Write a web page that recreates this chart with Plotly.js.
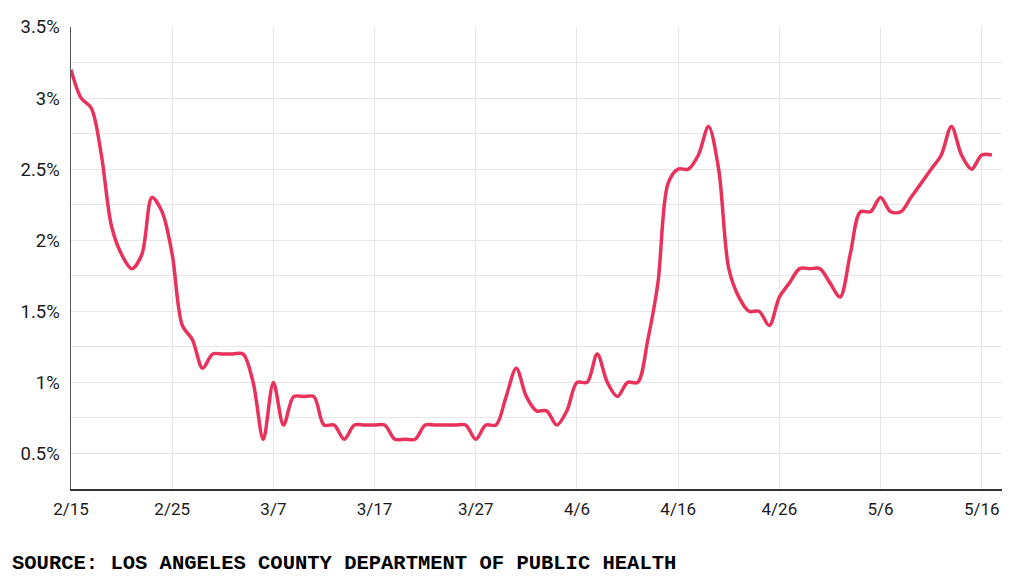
<!DOCTYPE html>
<html>
<head>
<meta charset="utf-8">
<script src="https://cdn.plot.ly/plotly-3.0.1.min.js"></script>
<style>
  html, body { margin: 0; padding: 0; background: #fff; }
  #chart { width: 1024px; height: 576px; }
</style>
</head>
<body>
<div id="chart"></div>
<script>
// Start date of the daily series
const startDate = '2021-02-15';

// Daily positivity rate (%), 2/15 through 5/17
const positivity = [
  3.2, 3.0, 2.93, 2.6, 2.1, 1.9, 1.8, 1.9, 2.3, 2.2,
  1.9, 1.4, 1.3, 1.1, 1.2, 1.2, 1.2, 1.2, 1.0, 0.6,
  1.0, 0.7, 0.9, 0.9, 0.9, 0.7, 0.7, 0.6, 0.7, 0.7,
  0.7, 0.7, 0.6, 0.6, 0.6, 0.7, 0.7, 0.7, 0.7, 0.7,
  0.6, 0.7, 0.7, 0.9, 1.1, 0.9, 0.8, 0.8, 0.7, 0.8,
  1.0, 1.0, 1.2, 1.0, 0.9, 1.0, 1.0, 1.3, 1.7, 2.4,
  2.5, 2.5, 2.6, 2.8, 2.5, 1.8, 1.6, 1.5, 1.5, 1.4,
  1.6, 1.7, 1.8, 1.8, 1.8, 1.7, 1.6, 1.9, 2.2, 2.2,
  2.3, 2.2, 2.2, 2.3, 2.4, 2.5, 2.6, 2.8, 2.6, 2.5,
  2.6, 2.6
];

// Tick settings (labels)
const yTickVals = [0.5, 1, 1.5, 2, 2.5, 3, 3.5];
const yTickText = ['0.5%', '1%', '1.5%', '2%', '2.5%', '3%', '3.5%'];
const sourceText = 'SOURCE: LOS ANGELES COUNTY DEPARTMENT OF PUBLIC HEALTH';

// Build the date list from the start date (one per value)
function isoDay(base, offset) {
  const d = new Date(base + 'T00:00:00Z');
  d.setUTCDate(d.getUTCDate() + offset);
  return d.toISOString().slice(0, 10);
}
const dates = positivity.map((_, i) => isoDay(startDate, i));

const trace = {
  x: dates,
  y: positivity,
  type: 'scatter',
  mode: 'lines',
  line: { color: '#e8325b', width: 3.5, shape: 'spline', smoothing: 0.9 },
  hoverinfo: 'x+y'
};

const gridColor = '#e6e6e6';

const layout = {
  width: 1024,
  height: 576,
  margin: { l: 71, r: 22, t: 27, b: 87 },
  paper_bgcolor: '#ffffff',
  plot_bgcolor: '#ffffff',
  showlegend: false,
  font: { family: 'Roboto, sans-serif', color: '#222222' },
  xaxis: {
    type: 'date',
    range: ['2021-02-15', '2021-05-18'],
    tick0: '2021-02-15',
    dtick: 10 * 86400000,
    tickformat: '%-m/%-d',
    showgrid: true,
    gridcolor: gridColor,
    gridwidth: 1,
    showline: true,
    linecolor: '#333333',
    linewidth: 1.5,
    ticks: '',
    zeroline: false,
    tickfont: { family: 'Roboto, sans-serif', size: 17, color: '#1a1a1a' },
    ticklabelstandoff: 4
  },
  yaxis: {
    range: [0.25, 3.5],
    tickmode: 'array',
    tickvals: yTickVals,
    ticktext: yTickText,
    showgrid: true,
    gridcolor: gridColor,
    gridwidth: 1,
    minor: { dtick: 0.25, tick0: 0, showgrid: true, gridcolor: gridColor, gridwidth: 1, ticks: '' },
    showline: true,
    linecolor: '#555555',
    linewidth: 1.5,
    ticks: '',
    zeroline: false,
    tickfont: { family: 'Roboto, sans-serif', size: 18.5, color: '#1a1a1a' },
    ticklabelstandoff: 6
  },
  annotations: [{
    text: sourceText,
    xref: 'paper', yref: 'paper',
    x: -0.0655, y: -0.162,
    xanchor: 'left', yanchor: 'middle',
    showarrow: false,
    font: { family: 'Liberation Mono, monospace', size: 20.5, color: '#000000', weight: 'bold' }
  }]
};

Plotly.newPlot('chart', [trace], layout, { displayModeBar: false, staticPlot: true });
</script>
</body>
</html>
